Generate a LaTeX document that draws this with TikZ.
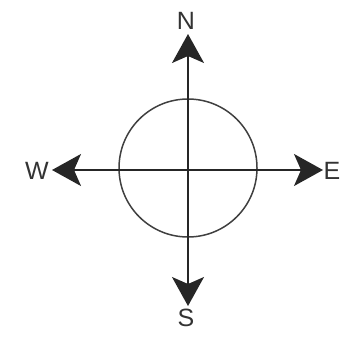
\documentclass[tikz,border=0pt]{standalone}
\usepackage{fontspec}
\setmainfont{Liberation Sans}
\usetikzlibrary{positioning, arrows.meta}
\tikzset{
  dirlabel/.style={inner sep=0pt, font=\fontsize{25}{29}\selectfont, text=black!80},
  axis/.style={black!85, line width=1.6pt, -{Stealth[length=29pt, width=32pt, inset=7pt]}},
}

\begin{document}
\begin{tikzpicture}[x=1pt, y=-1pt]
  \useasboundingbox (0,0) rectangle (344,339);
  % compass rose
  \coordinate (c) at (188,170);
  \draw[black!75, line width=1.5pt] (188,168) circle (69);
  \coordinate (ntip) at (188,34);
  \coordinate (stip) at (188,306);
  \coordinate (wtip) at (52,170);
  \coordinate (etip) at (323,170);
  \node[dirlabel] (N) at (186,21) {N};
  \node[dirlabel] (S) at (186,318) {S};
  \node[dirlabel] (W) at (37,171) {W};
  \node[dirlabel] (E) at (332,171) {E};
  \draw[axis] (c) -- (ntip);
  \draw[axis] (c) -- (stip);
  \draw[axis] (c) -- (wtip);
  \draw[axis] (c) -- (etip);
\end{tikzpicture}
\end{document}
